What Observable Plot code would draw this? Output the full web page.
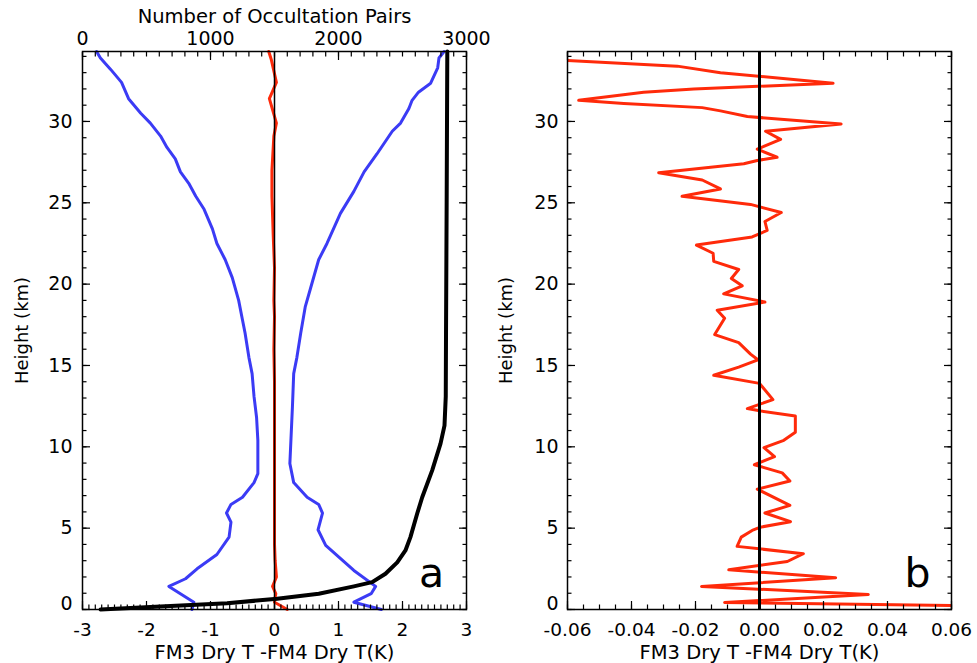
<!DOCTYPE html>
<html><head><meta charset="utf-8">
<script src="https://cdn.jsdelivr.net/npm/d3@7"></script>
<script src="https://cdn.jsdelivr.net/npm/@observablehq/plot@0.6"></script>
<style>
body{margin:0;background:#fff;}
#wrap{position:relative;width:977px;height:663px;overflow:hidden;}
#wrap svg{position:absolute;top:0;}
</style></head><body><div id="wrap"></div>
<script>
// ---------- tick labels ----------
const heightTicks = [5, 10, 15, 20, 25, 30];
const heightZeroTick = [0];
const heightMinor = d3.range(0, 35, 1);
const aTicks = [-3, -2, -1, 0, 1, 2, 3];
const aMinor = d3.range(-30, 31).map(i => i / 10);
const pairTicks = [0, 1000, 2000, 3000];
const pairMinor = d3.range(0, 3001, 100);
const bTicks = [-0.06, -0.04, -0.02, 0, 0.02, 0.04, 0.06];
const bMinor = d3.range(-12, 13).map(i => i * 0.005);

// ---------- panel a: mean - std (blue, left) ----------
const lowerHeight = [0, 0.45, 1.42, 1.89, 2.5, 3.38, 4.45, 5.37, 5.93, 6.46, 6.9, 7.8, 8.35, 10.4, 11.8, 13.1, 14.5, 15.5, 17.0, 17.8, 19.0, 20.4, 21.5, 22.5, 23.4, 24.6, 25.4, 26.2, 26.9, 27.7, 28.4, 29.1, 29.9, 30.5, 31.4, 32.4, 33.2, 33.9, 34.3];
const lowerValue  = [-1.29, -1.26, -1.65, -1.39, -1.21, -0.90, -0.71, -0.68, -0.75, -0.68, -0.50, -0.32, -0.26, -0.26, -0.28, -0.32, -0.35, -0.40, -0.46, -0.50, -0.56, -0.66, -0.77, -0.90, -0.97, -1.10, -1.23, -1.34, -1.47, -1.55, -1.68, -1.78, -1.94, -2.09, -2.28, -2.39, -2.56, -2.72, -2.78];

// ---------- panel a: mean + std (blue, right) ----------
const upperHeight = [0, 0.45, 0.97, 1.42, 2.4, 3.94, 4.9, 5.93, 6.46, 6.9, 7.8, 8.97, 12.45, 14.5, 15.5, 17.0, 18.6, 19.7, 21.5, 22.5, 24.35, 25.7, 26.9, 28.0, 29.4, 29.9, 30.8, 31.3, 31.8, 32.35, 33.3, 33.9, 34.3];
const upperValue  = [1.67, 1.24, 1.51, 1.58, 1.24, 0.80, 0.68, 0.75, 0.69, 0.51, 0.30, 0.24, 0.28, 0.30, 0.35, 0.41, 0.48, 0.56, 0.69, 0.82, 1.03, 1.24, 1.40, 1.60, 1.84, 1.97, 2.10, 2.15, 2.25, 2.44, 2.55, 2.57, 2.65];

// ---------- panel a: mean difference (red) ----------
const meanHeight = [0, 0.45, 0.97, 1.42, 2.0, 3, 4, 6, 8, 10, 12, 14, 16, 18, 19, 21, 23, 25.4, 27, 29.1, 29.9, 31.4, 32.4, 33.8, 34.3];
const meanValue  = [0.2, 0.0, 0.02, -0.03, 0.03, 0.01, 0.0, 0.0, 0.0, 0.0, 0.0, 0.0, -0.01, 0.0, -0.01, 0.0, -0.02, -0.04, -0.04, -0.01, 0.03, -0.08, 0.03, -0.05, -0.09];

// ---------- panel a: number of occultation pairs (black) ----------
const pairHeight = [0, 0.18, 0.39, 0.66, 0.97, 1.42, 1.68, 2.2, 2.9, 3.63, 4.45, 5.9, 6.9, 8.55, 10.2, 11.3, 13.1, 17, 25, 34.3];
const pairCount  = [141, 609, 1130, 1521, 1846, 2120, 2263, 2367, 2459, 2523, 2562, 2615, 2654, 2732, 2797, 2828, 2838, 2840, 2845, 2850];

// ---------- panel b: mean difference (red) ----------
const bHeight = [0.25, 0.43, 0.92, 1.42, 1.95, 2.44, 2.95, 3.43, 3.88, 4.45, 4.86, 5.06, 5.4, 5.93, 6.4, 7.4, 7.9, 8.4, 8.9, 9.4, 9.95, 10.4, 10.9, 11.9, 12.2, 12.35, 12.9, 13.9, 14.4, 14.9, 15.35, 15.7, 16.4, 16.9, 17.9, 18.4, 18.9, 19.4, 19.9, 20.35, 20.9, 21.4, 21.9, 22.4, 22.9, 23.3, 23.85, 24.4, 24.9, 25.4, 25.85, 26.4, 26.85, 27.4, 27.6, 27.8, 28.3, 28.9, 29.4, 29.85, 30.3, 30.65, 30.85, 31.1, 31.3, 31.8, 32.0, 32.35, 33.0, 33.4, 33.75];
const bValue  = [0.06, -0.0109, 0.0340, -0.0181, 0.0238, -0.0096, 0.0087, 0.0137, -0.0070, -0.0057, -0.0023, 0.0003, 0.0097, 0.0017, 0.0095, -0.0007, 0.0095, 0.0071, -0.0016, 0.0047, 0.0014, 0.0076, 0.0112, 0.0112, 0.0005, -0.0038, 0.0042, 0.0, -0.0143, -0.0065, -0.0005, -0.0028, -0.0065, -0.0140, -0.0109, -0.0132, 0.0017, -0.0112, -0.0054, -0.0088, -0.0065, -0.0143, -0.0145, -0.0197, -0.0023, 0.0024, 0.0017, 0.0068, -0.0028, -0.0242, -0.0122, -0.0179, -0.0315, -0.0049, -0.0007, 0.0055, -0.0007, 0.0066, 0.0019, 0.0255, -0.0038, -0.0122, -0.0179, -0.0424, -0.0565, -0.0362, -0.0205, 0.0230, -0.0122, -0.0257, -0.06];

const zeroLine = [0];
const xTitle = "FM3 Dry T -FM4 Dry T(K)";
const yTitle = "Height (km)";
const pairTitle = "Number of Occultation Pairs";

const FONT = "DejaVu Sans";
const BLUE = "#3b3bf5";
const RED = "#ff2a0a";
const rows = (hs, vs) => hs.map((h, i) => ({h, v: vs[i]}));
const yDomain = [0, 34.3];
const geom = {height: 663, marginTop: 51, marginBottom: 54};

// inward ticks: outward axis ticks shifted back inside the frame by their own length
function inTicksX(anchor, ticks, len) {
  return Plot.axisX({anchor, ticks, tickSize: len, dy: anchor === "bottom" ? -len : len,
    tickFormat: () => "", label: null, strokeWidth: 1.2});
}
function inTicksY(anchor, ticks, len) {
  return Plot.axisY({anchor, ticks, tickSize: len, dx: anchor === "left" ? len : -len,
    tickFormat: () => "", label: null, strokeWidth: 1.2});
}
function boxTicks(xMajor, xMinor, yMajor, yMinor, xAnchors) {
  const m = [];
  for (const anchor of xAnchors) {
    m.push(inTicksX(anchor, xMajor, 8));
    m.push(inTicksX(anchor, xMinor, 4.5));
  }
  for (const anchor of ["left", "right"]) {
    m.push(inTicksY(anchor, yMajor, 8));
    m.push(inTicksY(anchor, yMinor, 4.5));
  }
  return m;
}
function yLabels(pad) {
  return [
    Plot.axisY({anchor: "left", ticks: heightTicks, tickSize: 0, tickPadding: pad, tickFormat: d => String(d), fontSize: 19, label: null}),
    Plot.axisY({anchor: "left", ticks: heightZeroTick, tickSize: 0, tickPadding: pad, tickFormat: d => String(d), fontSize: 19, label: null, dy: -6})
  ];
}

const wrap = document.getElementById("wrap");

// ----- Panel a (difference scale) -----
const left = Plot.plot({
  width: 490, ...geom, marginLeft: 82, marginRight: 24,
  style: {fontFamily: FONT, background: "transparent", overflow: "visible", left: "0px"},
  x: {domain: [-3, 3]},
  y: {domain: yDomain},
  marks: [
    Plot.line(rows(lowerHeight, lowerValue), {x: "v", y: "h", stroke: BLUE, strokeWidth: 3}),
    Plot.line(rows(upperHeight, upperValue), {x: "v", y: "h", stroke: BLUE, strokeWidth: 3}),
    Plot.line(rows(meanHeight, meanValue), {x: "v", y: "h", stroke: RED, strokeWidth: 3}),
    Plot.ruleX(zeroLine, {stroke: "black", strokeWidth: 1.5}),
    Plot.frame({stroke: "black", strokeWidth: 1.5}),
    ...boxTicks(aTicks, aMinor, [0, ...heightTicks], heightMinor, ["bottom"]),
    Plot.axisX({anchor: "bottom", ticks: aTicks, tickSize: 0, tickPadding: 13, tickFormat: d => String(d), fontSize: 18.5, label: null}),
    ...yLabels(10),
    Plot.text([xTitle], {frameAnchor: "bottom", dy: 43, textAnchor: "middle", lineAnchor: "middle", fontSize: 19.5}),
    Plot.text([yTitle], {frameAnchor: "left", dx: -60, rotate: -90, textAnchor: "middle", lineAnchor: "middle", fontSize: 18}),
    Plot.text(["a"], {frameAnchor: "bottom-right", dx: -35, dy: -36, textAnchor: "middle", lineAnchor: "middle", fontSize: 41})
  ]
});
wrap.appendChild(left);

// ----- Panel a overlay (pairs scale, top axis) -----
const over = Plot.plot({
  width: 490, ...geom, marginLeft: 82, marginRight: 24,
  style: {fontFamily: FONT, background: "transparent", overflow: "visible", left: "0px"},
  x: {domain: [0, 3000]},
  y: {domain: yDomain, axis: null},
  marks: [
    Plot.line(rows(pairHeight, pairCount), {x: "v", y: "h", stroke: "black", strokeWidth: 4}),
    inTicksX("top", pairTicks, 8),
    inTicksX("top", pairMinor, 4.5),
    Plot.axisX({anchor: "top", ticks: pairTicks, tickSize: 0, tickPadding: 7, tickFormat: d => String(d), fontSize: 19, label: null}),
    Plot.text([pairTitle], {frameAnchor: "top", dy: -35, textAnchor: "middle", lineAnchor: "middle", fontSize: 19.5})
  ]
});
wrap.appendChild(over);

// ----- Panel b -----
const right = Plot.plot({
  width: 487, ...geom, marginLeft: 77, marginRight: 26,
  style: {fontFamily: FONT, background: "transparent", overflow: "visible", left: "490px"},
  x: {domain: [-0.06, 0.06]},
  y: {domain: yDomain},
  marks: [
    Plot.line(rows(bHeight, bValue), {x: "v", y: "h", stroke: RED, strokeWidth: 3, clip: true}),
    Plot.ruleX(zeroLine, {stroke: "black", strokeWidth: 3}),
    Plot.frame({stroke: "black", strokeWidth: 1.5}),
    ...boxTicks(bTicks, bMinor, [0, ...heightTicks], heightMinor, ["bottom", "top"]),
    Plot.axisX({anchor: "bottom", ticks: bTicks, tickSize: 0, tickPadding: 13, tickFormat: d => d.toFixed(2), fontSize: 18.5, label: null}),
    ...yLabels(9),
    Plot.text([xTitle], {frameAnchor: "bottom", dy: 43, textAnchor: "middle", lineAnchor: "middle", fontSize: 19.5}),
    Plot.text([yTitle], {frameAnchor: "left", dx: -61, rotate: -90, textAnchor: "middle", lineAnchor: "middle", fontSize: 18}),
    Plot.text(["b"], {frameAnchor: "bottom-right", dx: -34, dy: -36, textAnchor: "middle", lineAnchor: "middle", fontSize: 41})
  ]
});
wrap.appendChild(right);
</script></body></html>
